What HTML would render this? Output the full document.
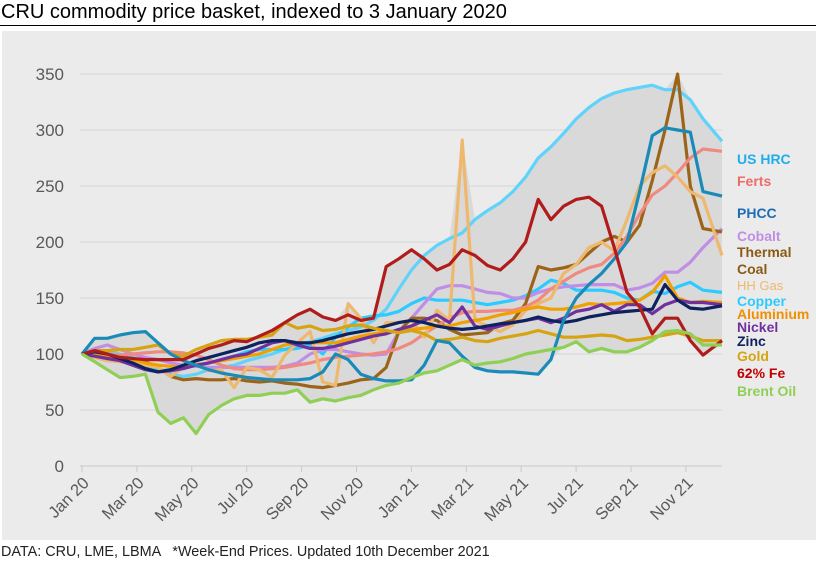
<!DOCTYPE html>
<html><head><meta charset="utf-8">
<style>
html,body{margin:0;padding:0;background:#fff;}
body{width:816px;height:564px;overflow:hidden;position:relative;font-family:"Liberation Sans",Arial,sans-serif;}
#title{position:absolute;left:1px;top:1px;font-size:20px;color:#000;white-space:nowrap;}
#rule{position:absolute;left:0;top:25px;width:816px;height:1px;background:#000;}
#footer{position:absolute;left:1px;top:544px;font-size:14.4px;color:#222;white-space:nowrap;}
svg{position:absolute;left:0;top:0;}
</style></head>
<body>
<svg id="chart" width="816" height="564"></svg>
<div id="title">CRU commodity price basket, indexed to 3 January 2020</div>
<div id="rule"></div>
<div id="footer">DATA: CRU, LME, LBMA &nbsp;&nbsp;*Week-End Prices. Updated 10th December 2021</div>
<script>
const weeks = [0,2,4,6,8,10,12,14,16,18,20,22,24,26,28,30,32,34,36,38,40,42,44,46,48,50,52,54,56,58,60,62,64,66,68,70,72,74,76,78,80,82,84,86,88,90,92,94,96,98,101];
const yTicks = [0,50,100,150,200,250,300,350];
const xTickLabels = ["Jan 20","Mar 20","May 20","Jul 20","Sep 20","Nov 20","Jan 21","Mar 21","May 21","Jul 21","Sep 21","Nov 21"];
const xTickMonths = [0,2,4,6,8,10,12,14,16,18,20,22];
const usHrc = [100,101,103,100,97,92,86,82,80,82,86,88,90,94,97,100,104,108,111,114,118,121,124,130,140,158,175,188,197,203,208,220,228,235,245,258,275,285,297,310,320,328,333,336,338,340,336,336,327,310,290];
const ferts = [100,101,100,99,100,101,102,102,101,99,95,90,87,86,86,87,88,90,92,95,97,98,99,100,102,105,110,118,125,132,137,138,138,139,139,142,148,158,165,172,177,180,190,205,225,242,250,262,275,283,281];
const phcc = [100,114,114,117,119,120,110,100,94,90,86,83,81,79,78,77,77,77,78,84,100,95,82,78,76,76,77,90,112,110,98,88,85,84,84,83,82,95,130,150,162,172,185,200,245,295,302,300,298,245,241];
const cobalt = [100,105,108,104,100,97,95,92,90,89,88,88,88,88,88,88,89,92,100,104,104,102,100,99,100,120,132,145,158,161,161,158,155,154,150,150,155,158,160,161,162,162,162,157,159,163,173,173,182,195,212];
const thermalCoal = [100,100,98,97,96,93,88,80,77,78,77,77,78,76,75,76,74,73,71,70,72,74,77,78,88,120,132,132,130,122,117,118,119,127,130,145,178,175,177,180,190,200,205,200,215,255,300,350,250,212,209];
const hhGas = [100,97,94,93,92,90,88,80,88,93,85,86,70,88,86,79,99,110,120,75,72,145,132,110,128,128,130,115,139,130,291,130,125,120,126,139,145,150,172,180,195,200,192,220,250,262,268,258,245,239,188];
const copper = [100,100,100,98,96,90,85,86,88,90,92,95,98,102,104,104,104,105,108,100,115,124,132,134,135,138,145,150,148,148,148,146,144,146,148,152,158,166,163,157,157,157,155,150,148,156,154,160,164,157,155];
const aluminium = [100,99,98,96,95,92,90,89,88,90,92,94,96,98,100,104,108,110,110,110,110,113,116,118,120,120,122,123,125,125,128,130,132,135,137,140,142,140,140,142,145,144,145,146,148,155,170,150,146,147,146];
const nickel = [100,98,96,94,90,86,84,85,87,90,92,95,98,100,105,110,112,108,105,105,107,110,113,116,118,122,125,130,135,128,142,125,122,125,128,130,132,128,132,138,140,144,138,144,144,136,144,148,146,146,144];
const zinc = [100,102,100,96,92,87,84,86,90,94,97,100,103,106,110,112,112,110,110,112,115,118,120,122,125,128,130,128,125,123,122,123,125,127,128,130,133,130,128,130,133,135,137,138,139,140,162,148,141,140,143];
const gold = [100,103,103,104,104,106,108,100,98,104,108,112,113,113,115,117,128,123,125,121,122,125,126,123,121,119,121,118,112,113,115,112,111,114,116,118,121,118,115,115,116,117,116,112,113,115,117,119,116,112,112];
const fe62 = [100,103,100,97,96,95,95,95,95,100,105,108,112,111,116,121,128,135,140,133,130,135,130,132,178,185,193,185,175,180,193,188,179,175,185,200,238,220,232,238,240,232,195,155,142,118,132,132,112,99,112];
const brentOil = [100,93,86,79,80,82,48,38,43,29,46,54,60,63,63,65,65,68,57,60,58,61,63,68,72,74,79,83,85,90,95,90,92,93,96,100,102,104,106,111,102,105,102,102,106,112,120,121,118,108,108];

const seriesNames = ["US HRC","Copper","Cobalt","Thermal Coal","Ferts","HH Gas","Aluminium","Nickel","Zinc","Gold","PHCC","62% Fe","Brent Oil"];
const seriesValues = [usHrc,copper,cobalt,thermalCoal,ferts,hhGas,aluminium,nickel,zinc,gold,phcc,fe62,brentOil];
const seriesColors = ["#5FD3FA","#2BCBFF","#C08EE6","#9C6418","#F08A80","#EEB86E","#F0A000","#7030A0","#0D225E","#D6A412","#1A8BB9","#B01C1C","#8FCF55"];

const X0=82, X1=722, W1=101, Y0=466, YPX=1.12;
function xw(w){return X0+(X1-X0)*w/W1;}
function xm(m){return X0+27.45*m;}
function yv(v){return Y0-v*YPX;}
const NS="http://www.w3.org/2000/svg";
const svg=document.getElementById('chart');
function mk(tag,attrs,parent){const e=document.createElementNS(NS,tag);for(const k in attrs)e.setAttribute(k,attrs[k]);(parent||svg).appendChild(e);return e;}

const bg=mk('rect',{x:2,y:31,width:814,height:509,fill:'#EBEBEB'});



yTicks.forEach(t=>{
  const g=mk('line',{x1:80,x2:722,y1:yv(t),y2:yv(t),stroke:t===0?'#C8C8C8':'#D6D6D6','stroke-width':1});
  
  
  const tx=mk('text',{x:64,y:yv(t)+6,'text-anchor':'end','font-size':'17','fill':'#595959','font-family':'Liberation Sans, sans-serif'});
  tx.textContent=t;
  
  
});
xTickMonths.forEach((m,i)=>{
  const x=xm(m);
  const tk=mk('line',{x1:x,x2:x,y1:466,y2:472,stroke:'#C8C8C8','stroke-width':1});
  
  
  const tx=mk('text',{x:0,y:0,'text-anchor':'end','font-size':'16.5','fill':'#595959','font-family':'Liberation Sans, sans-serif',transform:`translate(${x+8},${484}) rotate(-45)`});
  tx.textContent=xTickLabels[i];
  
  
});

let upperPts=[],lowerPts=[];
weeks.forEach((w,i)=>{
  let mx=-1e9,mn=1e9;
  seriesValues.forEach(s=>{mx=Math.max(mx,s[i]);mn=Math.min(mn,s[i]);});
  upperPts.push(xw(w).toFixed(1)+','+yv(mx).toFixed(1));
  lowerPts.unshift(xw(w).toFixed(1)+','+yv(mn).toFixed(1));
});
const env=mk('polygon',{points:upperPts.concat(lowerPts).join(' '),fill:'#D9D9D9'});



seriesValues.forEach((s,k)=>{
  const pts=weeks.map((w,i)=>xw(w).toFixed(1)+','+yv(s[i]).toFixed(1)).join(' ');
  const pl=mk('polyline',{points:pts,fill:'none',stroke:seriesColors[k],'stroke-width':3.2,'stroke-linejoin':'round'});
  
  
});

const legendLabels=[["US HRC",159,"#1FAEEB",true],["Ferts",181,"#EE6B67",true],["PHCC",213,"#1C6DB5",true],["Cobalt",236,"#C08EE6",true],["Thermal",252,"#8B5A14",true],["Coal",269,"#8B5A14",true],["HH Gas",285,"#EEB86E",false],["Copper",301,"#2BCBFF",true],["Aluminium",314,"#F09000",true],["Nickel",327,"#7030A0",true],["Zinc",341,"#0D225E",true],["Gold",356,"#D6A412",true],["62% Fe",373,"#C00000",true],["Brent Oil",391,"#8FCF55",true]];
legendLabels.forEach(l=>{
  const t=mk('text',{x:737,y:l[1]+5,'font-size':l[3]?'14':'13','font-weight':l[3]?'bold':'normal',fill:l[2],'font-family':'Liberation Sans, sans-serif'});
  t.textContent=l[0];
  
  
});
</script>
</body></html>
